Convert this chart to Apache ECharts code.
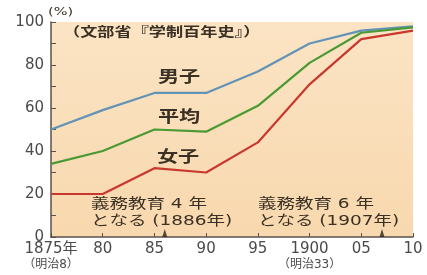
<!DOCTYPE html>
<html>
<head>
<meta charset="utf-8">
<script src="https://cdn.jsdelivr.net/npm/echarts@6/dist/echarts.min.js"></script>
<style>
  html, body { margin: 0; padding: 0; background: #fff; }
  #chart { width: 427px; height: 275px; }
</style>
</head>
<body>
<div id="chart"></div>
<script>
// 就学率の推移（文部省『学制百年史』）
const years = [1875, 1880, 1885, 1890, 1895, 1900, 1905, 1910]
const male = [50, 59, 67, 67, 77, 90, 96, 98]
const average = [34, 40, 50, 49, 61, 81, 95, 97.5]
const female = [20, 20, 32, 30, 44, 71, 92, 96]
// 義務教育の延長（年）
const eventYears = [1886, 1907]
// x 軸ラベル
const xLabels = { 1875: '1875年', 1880: '80', 1885: '85', 1890: '90', 1895: '95', 1900: '1900', 1905: '05', 1910: '10' }
const xSubLabels = { 1875: '（明治8）', 1900: '（明治33）' }

const FONT = '"DejaVu Sans", "Noto Sans CJK JP", sans-serif'
const TXT = '#3a3024'
const AXIS = '#5a524a'
// 元の図は文字が横長なので横方向に引き伸ばす
const STRETCH = 1.32

const chart = echarts.init(document.getElementById('chart'))

function pairs(vals) {
  return years.map((y, i) => [y, vals[i]])
}

function lineSeries(name, vals, color) {
  return {
    name, type: 'line', data: pairs(vals),
    showSymbol: false,
    lineStyle: { color, width: 2.2 },
    itemStyle: { color },
    z: 3
  }
}

function label(text, x, y, size, bold, lh) {
  return {
    type: 'text', x, y, scaleX: STRETCH, z: 10,
    style: {
      text, fontSize: size, fontWeight: bold ? 'bold' : 'normal',
      lineHeight: lh || size + 2, fill: TXT, fontFamily: FONT,
      align: 'left', verticalAlign: 'top'
    }
  }
}

chart.setOption({
  animation: false,
  textStyle: { fontFamily: FONT },
  grid: {
    left: 51, right: 14, top: 22, bottom: 38,
    show: true, borderWidth: 0,
    backgroundColor: {
      type: 'linear', x: 0, y: 0, x2: 0, y2: 1,
      colorStops: [
        { offset: 0, color: '#fbe4c4' },
        { offset: 1, color: '#f8d8ae' }
      ]
    }
  },
  xAxis: {
    type: 'value', min: 1875, max: 1910, interval: 5,
    axisLine: { lineStyle: { color: AXIS, width: 1.5 } },
    axisTick: { inside: true, length: 4, lineStyle: { color: AXIS } },
    splitLine: { show: false },
    axisLabel: {
      color: '#4a4a4a', fontSize: 15, margin: 4, lineHeight: 16,
      formatter: v => {
        const main = xLabels[v] || ''
        const sub = xSubLabels[v]
        return sub ? main + '\n{s|' + sub + '}' : main
      },
      rich: { s: { fontSize: 12, color: '#4a4a4a', lineHeight: 16 } }
    }
  },
  yAxis: {
    type: 'value', min: 0, max: 100, interval: 20,
    axisLine: { show: true, lineStyle: { color: AXIS, width: 1.5 } },
    axisTick: { show: true, inside: true, length: 5, lineStyle: { color: AXIS } },
    minorTick: { show: true, splitNumber: 2, length: 5, lineStyle: { color: AXIS } },
    splitLine: { show: false },
    axisLabel: { color: '#4a4a4a', fontSize: 15, margin: 7 }
  },
  series: [
    lineSeries('男子', male, '#6393b6'),
    lineSeries('平均', average, '#4a9a33'),
    lineSeries('女子', female, '#c8382f'),
    {
      type: 'scatter', symbol: 'triangle', symbolSize: [5, 8],
      symbolOffset: [0, -4],
      data: eventYears.map(y => [y, 0]),
      itemStyle: { color: '#2a2420' }, z: 4
    }
  ],
  graphic: [
    label('(%)', 48, 6, 11, false),
    label('（文部省『学制百年史』）', 63, 25, 13, true),
    label('男子', 158, 69, 16, true),
    label('平均', 158, 109, 16, true),
    label('女子', 157, 149, 16, true),
    label('義務教育 4 年\nとなる (1886年)', 91, 196, 14, false, 17),
    label('義務教育 6 年\nとなる (1907年)', 258, 196, 14, false, 17)
  ]
})
</script>
</body>
</html>
